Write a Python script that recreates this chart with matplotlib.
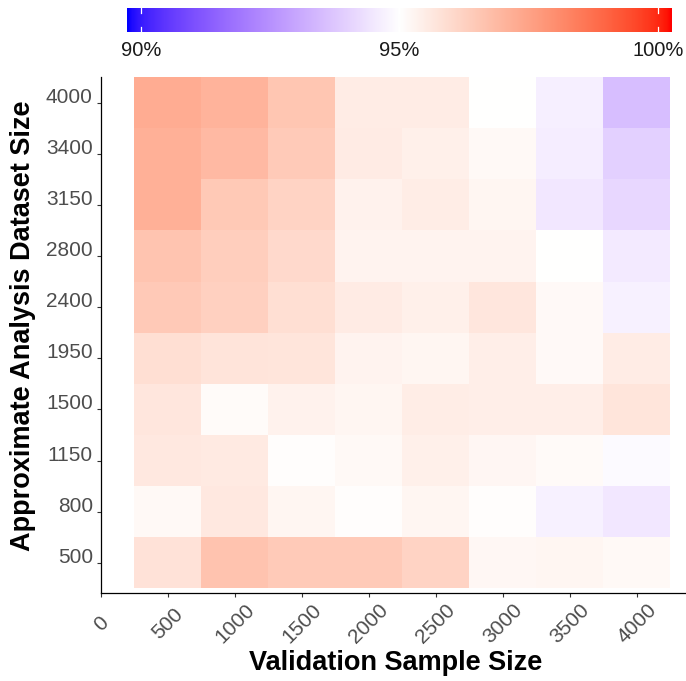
import numpy as np
import matplotlib
matplotlib.use("Agg")
import matplotlib.pyplot as plt
from matplotlib.colors import ListedColormap, Normalize

plt.rcParams['font.family'] = ['Liberation Sans', 'DejaVu Sans']

# ---------------- data ----------------
validation_sizes = [500, 1000, 1500, 2000, 2500, 3000, 3500, 4000]
analysis_sizes = ["500", "800", "1150", "1500", "1950", "2400", "2800", "3150", "3400", "4000"]

# accuracy (%) per analysis size (rows, top = 4000 ... bottom = 500), columns = validation sizes
row_4000 = [97.27, 97.06, 96.58, 95.53, 95.53, 95.00, 94.63, 93.52]
row_3400 = [97.16, 96.90, 96.45, 95.55, 95.42, 95.18, 94.60, 93.95]
row_3150 = [97.16, 96.50, 96.21, 95.37, 95.50, 95.25, 94.47, 94.10]
row_2800 = [96.61, 96.34, 96.03, 95.32, 95.32, 95.32, 95.00, 94.53]
row_2400 = [96.48, 96.29, 95.90, 95.55, 95.42, 95.69, 95.16, 94.68]
row_1950 = [95.90, 95.76, 95.74, 95.32, 95.26, 95.47, 95.16, 95.53]
row_1500 = [95.69, 95.11, 95.37, 95.26, 95.50, 95.47, 95.47, 95.74]
row_1150 = [95.63, 95.58, 95.06, 95.18, 95.42, 95.24, 95.13, 94.89]
row_800 = [95.18, 95.63, 95.26, 95.06, 95.25, 95.06, 94.68, 94.47]
row_500 = [95.79, 96.63, 96.45, 96.45, 96.21, 95.21, 95.26, 95.18]

x_ticks = [0, 500, 1000, 1500, 2000, 2500, 3000, 3500, 4000]
cbar_ticks = [90, 95, 100]
cbar_labels = ["90%", "95%", "100%"]
cbar_limits = (89.73, 100.27)
midpoint = 95

values = np.array([row_500, row_800, row_1150, row_1500, row_1950,
                   row_2400, row_2800, row_3150, row_3400, row_4000])

# ---------------- Lab-interpolated diverging colormap ----------------
def srgb_to_lab(rgb):
    rgb = np.asarray(rgb, float)
    lin = np.where(rgb <= 0.04045, rgb / 12.92, ((rgb + 0.055) / 1.055) ** 2.4)
    M = np.array([[0.4124, 0.3576, 0.1805],
                  [0.2126, 0.7152, 0.0722],
                  [0.0193, 0.1192, 0.9505]])
    xyz = M @ lin
    xyz = xyz / np.array([0.95047, 1.0, 1.08883])
    f = np.where(xyz > 0.008856, np.cbrt(xyz), 7.787 * xyz + 16 / 116)
    L = 116 * f[1] - 16
    a = 500 * (f[0] - f[1])
    b = 200 * (f[1] - f[2])
    return np.array([L, a, b])

def lab_to_srgb(lab):
    L, a, b = lab
    fy = (L + 16) / 116
    fx = fy + a / 500
    fz = fy - b / 200
    f = np.array([fx, fy, fz])
    xyz = np.where(f ** 3 > 0.008856, f ** 3, (f - 16 / 116) / 7.787)
    xyz = xyz * np.array([0.95047, 1.0, 1.08883])
    Minv = np.array([[3.2406, -1.5372, -0.4986],
                     [-0.9689, 1.8758, 0.0415],
                     [0.0557, -0.2040, 1.0570]])
    lin = np.clip(Minv @ xyz, 0, 1)
    rgb = np.where(lin <= 0.0031308, 12.92 * lin, 1.055 * lin ** (1 / 2.4) - 0.055)
    return np.clip(rgb, 0, 1)

lab_low = srgb_to_lab([0, 0, 1])
lab_mid = srgb_to_lab([1, 1, 1])
lab_high = srgb_to_lab([1, 0, 0])
cols = []
for v in np.linspace(0, 1, 512):
    if v <= 0.5:
        t = (0.5 - v) / 0.5
        lab = lab_mid + t * (lab_low - lab_mid)
    else:
        t = (v - 0.5) / 0.5
        lab = lab_mid + t * (lab_high - lab_mid)
    cols.append(lab_to_srgb(lab))
cmap = ListedColormap(np.array(cols))
norm = Normalize(vmin=cbar_limits[0], vmax=cbar_limits[1])

# ---------------- figure ----------------
W, H = 686, 681
fig = plt.figure(figsize=(W / 100, H / 100), dpi=100)

def px_axes(left, top, right, bottom):
    return [left / W, 1 - bottom / H, (right - left) / W, (bottom - top) / H]

ax = fig.add_axes(px_axes(101, 77, 686, 593))

vs = np.array(validation_sizes, float)
x_edges = np.append(vs - 250, vs[-1] + 250)
y_edges = np.arange(len(analysis_sizes) + 1) - 0.5
ax.pcolormesh(x_edges, y_edges, values, cmap=cmap, norm=norm,
              edgecolors='none', antialiased=False)

ax.set_xlim(0, 4366)
ax.set_ylim(-0.588, len(analysis_sizes) - 0.5)

for s in ['top', 'right']:
    ax.spines[s].set_visible(False)
for s in ['left', 'bottom']:
    ax.spines[s].set_color('black')
    ax.spines[s].set_linewidth(0.9)

ax.set_xticks(x_ticks)
ax.set_xticklabels([str(t) for t in x_ticks], rotation=45, rotation_mode='anchor',
                   ha='center', va='center', fontsize=15, color='#4d4d4d')
ax.set_yticks(np.arange(len(analysis_sizes)))
ax.set_yticklabels(analysis_sizes, fontsize=15, color='#4d4d4d', va='baseline')
ax.tick_params(axis='x', length=3, width=0.8, color='#333333', pad=19)
ax.tick_params(axis='y', length=3, width=0.8, color='#333333', pad=2.9)

fig.text(396 / W, 1 - 670 / H, "Validation Sample Size", ha='center', va='baseline',
         fontsize=19.5, fontweight='bold', color='black')
fig.text(23 / W, 1 - 326 / H, "Approximate Analysis Dataset Size", ha='center', va='center',
         rotation=90, fontsize=19.5, fontweight='bold', color='black')

# ---------------- colorbar ----------------
cax = fig.add_axes(px_axes(127, 8, 672, 32))
grad = np.linspace(cbar_limits[0], cbar_limits[1], 600)[None, :]
cax.imshow(grad, cmap=cmap, norm=norm, aspect='auto',
           extent=[cbar_limits[0], cbar_limits[1], 0, 1], interpolation='bilinear')
cax.set_xlim(*cbar_limits)
cax.set_ylim(0, 1)
for s in cax.spines.values():
    s.set_visible(False)
cax.set_yticks([])
cax.set_xticks(cbar_ticks)
cax.set_xticklabels(cbar_labels, fontsize=14.5, color='#1a1a1a')
cax.tick_params(axis='x', length=0, pad=6.5)
for v in cbar_ticks:
    cax.plot([v, v], [0, 0.2], color='white', lw=0.9)
    cax.plot([v, v], [0.8, 1], color='white', lw=0.9)

fig.savefig("out.png", dpi=100)
